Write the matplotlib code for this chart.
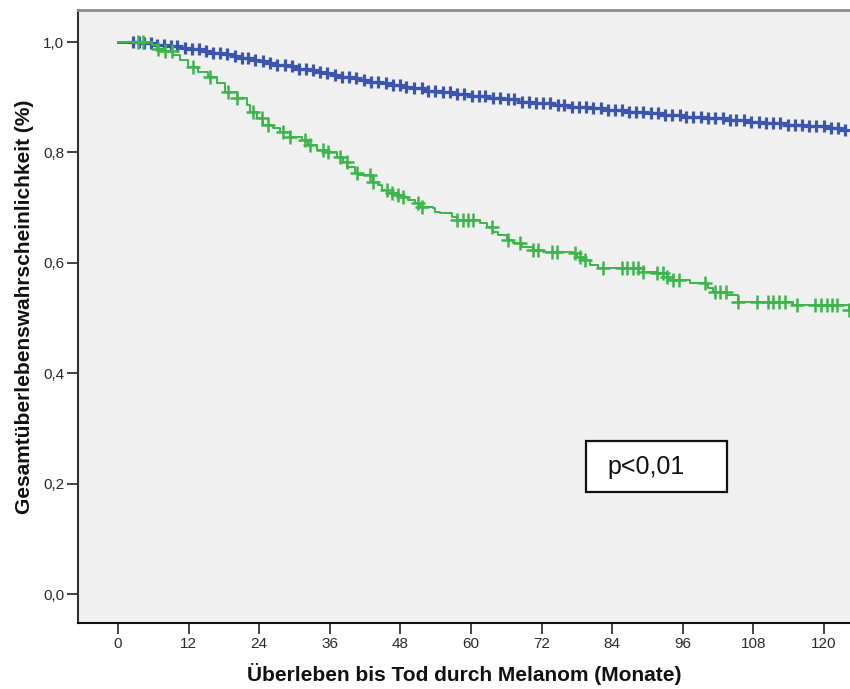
import numpy as np
import matplotlib
matplotlib.use("Agg")
import matplotlib.pyplot as plt

plt.rcParams['font.family'] = ['Liberation Sans', 'DejaVu Sans']

# Kaplan-Meier estimates: event times (months) and survival after each event
blue_times = [0.0, 4.0, 6.5, 8.5, 10.5, 12.5, 14.5, 16.0, 17.5, 19.5, 21.0, 22.5, 24.0,
              25.5, 27.0, 28.5, 30.5, 32.0, 33.5, 35.0, 36.5, 38.0, 39.5, 41.0, 43.0,
              44.5, 46.0, 48.0, 50.0, 52.5, 55.0, 57.5, 60.0, 62.5, 65.0, 68.0, 71.0,
              74.0, 77.0, 80.0, 83.0, 86.0, 89.5, 93.0, 96.5, 99.5, 103.0, 106.5, 110.0,
              113.5, 117.0, 120.5, 123.5]
blue_surv = [1.000, 0.998, 0.995, 0.993, 0.990, 0.987, 0.984, 0.981, 0.978, 0.974, 0.971,
             0.968, 0.965, 0.962, 0.959, 0.956, 0.952, 0.949, 0.946, 0.943, 0.940, 0.937,
             0.934, 0.931, 0.928, 0.925, 0.922, 0.919, 0.916, 0.912, 0.909, 0.905, 0.902,
             0.899, 0.896, 0.892, 0.889, 0.886, 0.883, 0.880, 0.877, 0.874, 0.871, 0.868,
             0.865, 0.862, 0.859, 0.856, 0.853, 0.850, 0.847, 0.844, 0.841]
blue_censored = [2.6, 3.5, 4.4, 5.6, 6.7, 7.9, 9.0, 10.1, 11.4, 12.5, 13.8, 15.0, 16.1,
                 17.3, 18.6, 19.8, 21.0, 22.1, 23.3, 24.6, 25.8, 27.0, 28.3, 29.5, 30.7,
                 31.9, 33.2, 34.4, 35.6, 36.8, 38.1, 39.3, 40.5, 41.8, 43.0, 44.2, 45.5,
                 46.7, 47.9, 49.0, 50.3, 51.6, 52.7, 53.9, 55.2, 56.4, 57.6, 58.8, 60.1,
                 61.3, 62.4, 63.7, 64.9, 66.2, 67.3, 68.6, 69.8, 71.0, 72.3, 73.5, 74.7,
                 75.8, 77.1, 78.3, 79.5, 80.8, 82.0, 83.2, 84.4, 85.6, 86.9, 88.1, 89.3,
                 90.5, 91.8, 93.0, 94.2, 95.5, 96.6, 97.8, 99.1, 100.3, 101.5, 102.8,
                 104.0, 105.1, 106.4, 107.6, 108.9, 110.1, 111.3, 112.5, 113.8, 115.0,
                 116.2, 117.4, 118.6, 119.9, 121.1, 122.3, 123.5]

green_times = [0.0, 5.7, 6.6, 7.6, 9.3, 10.5, 11.9, 13.6, 15.3, 16.8, 18.2, 20.2, 21.9,
               22.4, 23.6, 24.6, 26.3, 27.5, 29.2, 31.3, 32.3, 33.8, 35.7, 37.2, 38.2,
               39.0, 40.3, 40.8, 43.3, 44.2, 44.9, 45.9, 47.6, 48.4, 49.3, 50.5, 51.3,
               53.5, 53.9, 54.7, 56.8, 57.6, 61.5, 62.7, 63.7, 64.6, 66.1, 67.1, 68.7,
               70.5, 72.2, 77.3, 78.0, 79.0, 80.2, 81.5, 89.2, 91.6, 93.3, 93.8, 97.2,
               100.3, 101.1, 103.5, 105.4, 114.7, 124.3]
green_surv = [1.000, 0.994, 0.988, 0.983, 0.976, 0.967, 0.955, 0.946, 0.937, 0.925, 0.910,
              0.898, 0.886, 0.874, 0.862, 0.850, 0.844, 0.837, 0.828, 0.822, 0.813, 0.804,
              0.801, 0.792, 0.783, 0.774, 0.762, 0.759, 0.746, 0.741, 0.732, 0.726, 0.723,
              0.719, 0.714, 0.708, 0.701, 0.699, 0.692, 0.690, 0.683, 0.678, 0.672, 0.665,
              0.656, 0.650, 0.641, 0.636, 0.629, 0.623, 0.620, 0.618, 0.611, 0.605, 0.596,
              0.590, 0.583, 0.581, 0.574, 0.569, 0.563, 0.554, 0.547, 0.542, 0.529, 0.524,
              0.514]
green_censored = [3.4, 4.2, 6.8, 8.0, 9.2, 12.7, 15.6, 18.7, 20.2, 22.9, 24.5, 25.5, 28.0,
                  29.2, 31.8, 32.6, 34.8, 35.7, 37.7, 38.9, 40.6, 42.8, 43.3, 45.7, 46.6,
                  47.6, 48.4, 51.0, 51.7, 57.6, 58.6, 59.5, 60.3, 63.6, 66.3, 68.3, 70.5,
                  71.4, 73.8, 74.6, 77.7, 78.5, 79.4, 82.4, 85.7, 86.5, 87.5, 88.4, 89.2,
                  91.6, 92.6, 93.3, 94.3, 95.4, 99.8, 101.5, 102.3, 103.3, 105.4, 108.6,
                  110.5, 111.3, 112.4, 113.4, 115.4, 118.5, 119.5, 120.5, 121.4, 122.2,
                  124.3]

x_ticks = [0, 12, 24, 36, 48, 60, 72, 84, 96, 108, 120]
y_ticks = [0.0, 0.2, 0.4, 0.6, 0.8, 1.0]
y_ticklabels = ['0,0', '0,2', '0,4', '0,6', '0,8', '1,0']

BLUE = '#3d56ad'
GREEN = '#3db54b'
X_MAX = 124.4


def surv_at(times, surv, t):
    idx = np.searchsorted(np.asarray(times), np.asarray(t), side='right') - 1
    return np.asarray(surv)[idx]


fig = plt.figure(figsize=(8.5, 6.89), dpi=100)
ax = fig.add_axes([78 / 850, 66 / 689, 1 - 78 / 850, (623 - 10) / 689])
ax.set_facecolor('#f0f0f0')

# blue group
bt = list(blue_times) + [X_MAX + 2]
bs = list(blue_surv) + [blue_surv[-1]]
ax.step(bt, bs, where='post', color=BLUE, lw=2.0, zorder=2)
ax.plot(blue_censored, surv_at(blue_times, blue_surv, blue_censored), ls='none',
        marker='+', ms=9, mew=2.3, color=BLUE, zorder=3)

# green group
gt = list(green_times) + [X_MAX + 2]
gs = list(green_surv) + [green_surv[-1]]
ax.step(gt, gs, where='post', color=GREEN, lw=1.4, zorder=4)
ax.plot(green_censored, surv_at(green_times, green_surv, green_censored), ls='none',
        marker='+', ms=10, mew=1.8, color=GREEN, zorder=5)

ax.set_xlim(-6.8, X_MAX)
ax.set_ylim(-0.0525, 1.058)
ax.set_xticks(x_ticks)
ax.set_xticklabels([str(v) for v in x_ticks])
ax.set_yticks(y_ticks)
ax.set_yticklabels(y_ticklabels)
ax.tick_params(axis='both', direction='out', length=8, width=1.2, color='#222222',
               labelsize=11, labelcolor='#2a2a2a')
ax.tick_params(axis='x', pad=2)
ax.tick_params(axis='y', pad=2)

ax.spines['right'].set_visible(False)
ax.spines['top'].set_color('#8c8c8c')
ax.spines['top'].set_linewidth(2.0)
ax.spines['left'].set_color('#333333')
ax.spines['left'].set_linewidth(1.5)
ax.spines['bottom'].set_color('#111111')
ax.spines['bottom'].set_linewidth(1.5)

ax.set_xlabel('Überleben bis Tod durch Melanom (Monate)', fontsize=15,
              fontweight='bold', labelpad=9, color='#111111')
ax.set_ylabel('Gesamtüberlebenswahrscheinlichkeit (%)', fontsize=15,
              fontweight='bold', color='#111111')
ax.yaxis.set_label_coords(-0.0565, 0.515)

# p-value box
box = plt.Rectangle((586 / 850, 1 - 492 / 689), (727 - 586) / 850, (492 - 441) / 689,
                    transform=fig.transFigure, fc='white', ec='#111111', lw=1.6,
                    zorder=6)
fig.patches.append(box)
fig.text(607 / 850, 1 - 467 / 689, 'p<0,01', fontsize=18, color='#111111',
         ha='left', va='center', zorder=7)

fig.savefig('out.png', dpi=100)
